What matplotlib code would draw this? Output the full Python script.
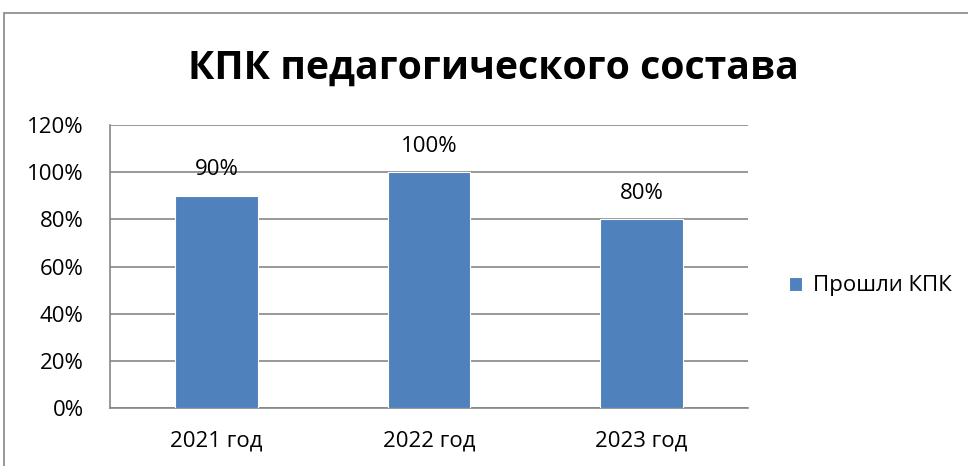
import matplotlib.pyplot as plt
from matplotlib.patches import Rectangle

categories = ["2021 год", "2022 год", "2023 год"]
values = [90, 100, 80]
series_name = "Прошли КПК"
title = "КПК педагогического состава"
yticks = [0, 20, 40, 60, 80, 100, 120]

plt.rcParams['font.family'] = ['Open Sans', 'DejaVu Sans']

fig = plt.figure(figsize=(9.68, 4.66), dpi=100)
W, H = 968, 466
ax = fig.add_axes([110 / W, 1 - 408 / H, (748 - 110) / W, (408 - 125) / H])

# chart border
fig.patches.append(Rectangle((4 / W, -0.1), 1.2, 1 - 13 / H + 0.1, transform=fig.transFigure,
                             fill=False, edgecolor='#868686', linewidth=1.2))

x = range(len(categories))
bars = ax.bar(x, values, width=0.39, color='#4F81BD', edgecolor='white', linewidth=0.8,
              label=series_name, zorder=3)
for xi, v in zip(x, values):
    ax.annotate(f"{v}%", (xi, v), xytext=(0, 11), textcoords='offset points',
                ha='center', va='bottom', fontsize=16)

ax.set_xlim(-0.5, 2.5)
ax.set_ylim(0, 120)
ax.set_yticks(yticks)
ax.set_yticklabels([f"{t}%" for t in yticks], fontsize=16)
ax.set_xticks(list(x))
ax.set_xticklabels(categories, fontsize=16)
ax.tick_params(length=0)
ax.tick_params(axis='x', pad=16)
ax.tick_params(axis='y', pad=19)
ax.grid(axis='y', color='#868686', linewidth=1.2, zorder=0)
for s in ['top', 'right']:
    ax.spines[s].set_visible(False)
for s in ['left', 'bottom']:
    ax.spines[s].set_color('#868686')
    ax.spines[s].set_linewidth(1.2)

fig.text(493 / W, 1 - 68 / H, title, ha='center', va='center', fontsize=28.3, fontweight='bold')

fig.legend(handles=[bars], labels=[series_name], loc='center left',
           bbox_to_anchor=(789 / W, 1 - 286 / H), frameon=False, fontsize=16,
           borderpad=0, borderaxespad=0,
           handlelength=0.6, handleheight=0.6, handletextpad=0.5)

fig.savefig("out.png", dpi=100)
